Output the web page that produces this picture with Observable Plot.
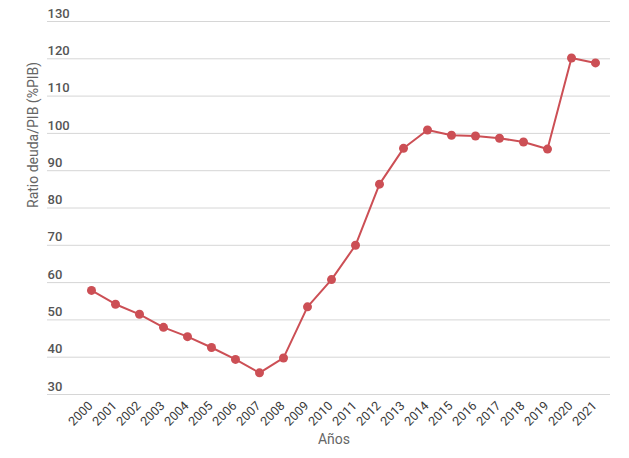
<!DOCTYPE html>
<html>
<head>
<meta charset="utf-8">
<script src="https://cdn.jsdelivr.net/npm/d3@7"></script>
<script src="https://cdn.jsdelivr.net/npm/@observablehq/plot@0.6"></script>
<style>
  html, body { margin: 0; padding: 0; background: #fff; }
  #chart svg { display: block; font-family: Roboto, sans-serif; }
</style>
</head>
<body>
<div id="chart"></div>
<script>
const years = ["2000","2001","2002","2003","2004","2005","2006","2007","2008","2009","2010","2011","2012","2013","2014","2015","2016","2017","2018","2019","2020","2021"];
const ratio = [57.9, 54.2, 51.5, 48.0, 45.5, 42.6, 39.4, 35.8, 39.8, 53.5, 60.8, 70.0, 86.4, 96.0, 100.9, 99.5, 99.3, 98.7, 97.7, 95.8, 120.2, 118.9];
const yTicks = [30, 40, 50, 60, 70, 80, 90, 100, 110, 120, 130];
const xLabel = "Años";
const yLabel = "Ratio deuda/PIB (%PIB)";

const data = years.map((y, i) => ({year: y, value: ratio[i]}));
const red = "#cc4f55";

const chart = Plot.plot({
  width: 629,
  height: 458,
  marginLeft: 47,
  marginRight: 19,
  marginTop: 21,
  marginBottom: 64,
  style: {fontFamily: "Roboto, sans-serif", background: "#fff"},
  x: {type: "point", domain: years, range: [87.3, 597.7], padding: 0, axis: null},
  y: {domain: [30, 130], axis: null},
  marks: [
    Plot.ruleY(yTicks, {stroke: "#d6d6d6", strokeWidth: 1}),
    Plot.text(yTicks, {y: d => d, text: d => String(d), frameAnchor: "left", textAnchor: "start", dy: -8, fontSize: 13, fill: "#555", fontWeight: 500}),
    Plot.text(years, {x: d => d, text: d => d, frameAnchor: "bottom", rotate: -45, textAnchor: "end", dx: 2, dy: 12, fontSize: 12.5, fill: "#3a3a3a", fontWeight: 400}),
    Plot.text([xLabel], {frameAnchor: "bottom", dx: 5, dy: 49, fontSize: 14, fill: "#666"}),
    Plot.text([yLabel], {frameAnchor: "left", rotate: -90, dx: -14, fontSize: 14, fill: "#666"}),
    Plot.line(data, {x: "year", y: "value", stroke: red, strokeWidth: 2}),
    Plot.dot(data, {x: "year", y: "value", r: 4.5, fill: red})
  ]
});
document.getElementById("chart").appendChild(chart);
</script>
</body>
</html>
